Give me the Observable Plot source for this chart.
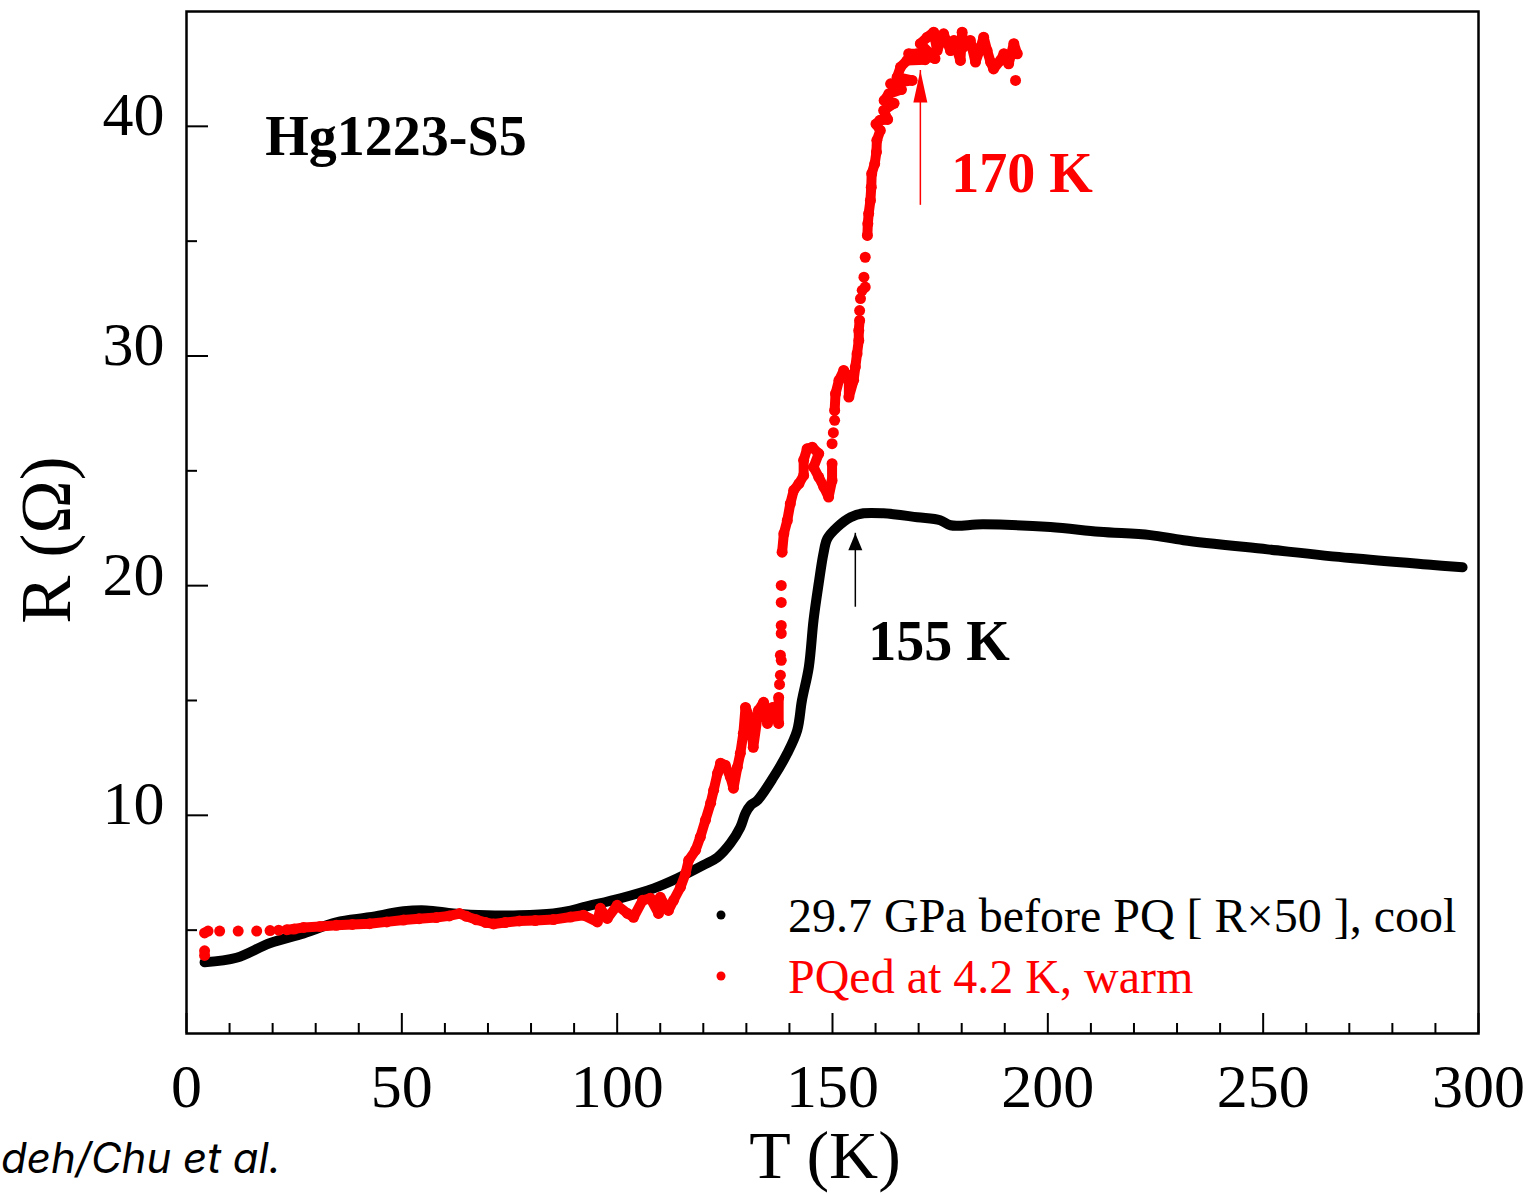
<!DOCTYPE html>
<html><head><meta charset="utf-8">
<script src="https://cdn.jsdelivr.net/npm/d3@7"></script>
<script src="https://cdn.jsdelivr.net/npm/@observablehq/plot@0.6"></script>
<style>
html,body{margin:0;padding:0;background:#fff;}
#chart{position:relative;width:1532px;height:1194px;overflow:hidden;}
</style></head><body><div id="chart"></div>
<script>
// ---- data ----
// cooling curve (29.7 GPa before PQ, R x 50)
const coolT = [4.2, 11.6, 19.3, 27.2, 34.8, 42.5, 50.4, 55.7, 62, 69.7, 77.3, 85.2, 89.2, 92.2, 100.8, 108.5, 114, 120, 123.3, 126.3, 128.6, 129.8, 131, 132.6, 136.3, 139.5, 141.8, 142.9, 144.5, 145.6, 146.8, 147.9, 148.8, 151.1, 154.2, 157.2, 161.8, 169.7, 175, 177.4, 185, 200.6, 212, 223.8, 231.5, 251, 270.3, 289.5, 296.3];
const coolR = [3.6, 3.8, 4.43, 4.86, 5.34, 5.56, 5.82, 5.86, 5.73, 5.65, 5.65, 5.73, 5.85, 6.0, 6.39, 6.82, 7.26, 7.83, 8.17, 8.78, 9.48, 10.09, 10.44, 10.66, 11.66, 12.7, 13.7, 15.0, 16.45, 18.5, 20.1, 21.4, 22.05, 22.55, 22.98, 23.15, 23.15, 22.98, 22.85, 22.63, 22.67, 22.55, 22.35, 22.2, 21.98, 21.58, 21.2, 20.9, 20.8];

// warming curve (PQed at 4.2 K); group "s" = isolated points, others = dense runs
const warmT = [
  4.2, 4.2, 4.2, 5.0, 7.7, 12.0, 16.3, 19.4, 21.4,
  23.3, 25, 27.2, 31, 34.8, 38.5, 42.5, 46.5, 50.4, 54, 58, 61, 63.4, 65, 67.3, 69.5, 71.3, 74, 77.3, 81, 85.2, 89.2, 92.2, 95.4, 96.1, 97.7, 100, 102.4, 103.8, 105.9, 107.7, 109.6, 110, 111.9, 113.1, 114.7, 115.9, 116.6, 118.2, 119.3, 120.5, 121.7, 122.4, 123.3, 124, 125.1, 126.3, 127, 127.9, 128.6, 129.3, 129.8, 131, 131.6, 132.8, 134, 134.9, 136.1, 137.5, 137.5,
  137.7, 137.9, 137.9, 138.1, 138.1, 138.1, 138.1, 138.1,
  138.3, 138.7, 139.5, 140.2, 141, 142.2, 143.3, 143.3, 144.1, 145.3, 146.8, 145.6, 146.8, 148, 149.1, 149.9, 149.9,
  149.9, 150.2, 150.5,
  150.5, 150.7, 151.5, 152.6, 153.8, 153.8, 154.9, 155.3, 155.7, 156.1, 156.1, 156.3,
  156.3, 156.5, 156.9, 157.6, 157.3, 157.6,
  158.1, 158.2, 158.4, 158.8, 159.0, 159.1, 159.8, 160.2, 160.3, 161.1, 160.1, 161.0, 162.8, 161.9, 164.3, 162.0, 163.1, 166.0, 163.5, 168.5, 165.0, 165.8, 167.3, 171.5, 167.7, 169.7, 173.8, 170.4, 172.0, 173.5, 174.3, 175.8, 177.4, 178.2, 179.7, 180.1, 180.4, 182.0, 183.2, 184.4, 185.1, 185.9, 186.7, 187.4, 189.0, 189.8, 190.9, 192.1, 192.9,
  192.5
];
const warmR = [
  4.1, 3.9, 4.88, 4.96, 4.96, 4.96, 4.96, 4.98, 5.0,
  5.02, 5.05, 5.12, 5.16, 5.21, 5.25, 5.28, 5.36, 5.44, 5.5, 5.55, 5.62, 5.72, 5.6, 5.45, 5.33, 5.27, 5.33, 5.4, 5.42, 5.46, 5.57, 5.65, 5.36, 5.95, 5.51, 6.08, 5.73, 5.56, 6.3, 6.39, 5.73, 6.43, 5.86, 6.3, 6.87, 7.48, 8.04, 8.48, 9.05, 9.79, 10.53, 11.09, 11.83, 12.27, 12.18, 11.66, 11.18, 12.09, 12.7, 13.57, 14.7, 14.14, 12.96, 14.57, 14.92, 14.0, 14.7, 14.0, 15.13,
  15.7, 16.1, 16.97, 17.92, 18.27, 19.27, 20.01, 16.75,
  21.46, 22.26, 22.84, 23.57, 24.15, 24.44, 24.8, 25.46, 25.96, 26.03, 25.75, 25.16, 24.73, 24.29, 23.86, 24.58, 25.31,
  26.18, 26.66, 27.2,
  27.63, 28.36, 28.94, 29.37, 29.08, 28.21, 28.94, 29.52, 30.1, 30.68, 31.11, 31.55,
  31.98, 32.5, 32.86, 33.0, 33.43, 34.3,
  35.25, 35.76, 36.2, 36.77, 37.35, 37.94, 38.37, 38.88, 39.39, 39.82, 40.1, 40.26, 40.3, 40.69, 41.0, 41.13, 41.42, 41.6, 41.85, 42.0, 42.14, 42.58, 42.87, 42.9, 43.16, 43.16, 42.95, 43.6, 43.88, 44.1, 43.3, 44.03, 43.3, 43.74, 42.87, 44.1, 43.45, 43.74, 42.8, 43.45, 43.88, 43.3, 42.8, 42.5, 42.87, 43.16, 42.72, 43.6, 43.16,
  42.0
];
const warmGroup = [
  ...Array(9).fill("s"),
  ...Array(60).fill("b1"),
  ...Array(8).fill("s"),
  ...Array(17).fill("b2"),
  ...Array(3).fill("s"),
  ...Array(12).fill("b3"),
  ...Array(6).fill("s"),
  ...Array(49).fill("b4"),
  "s"
];

const xMajorTicks = [0, 50, 100, 150, 200, 250, 300];
const xMinorTicks = [10, 20, 30, 40, 60, 70, 80, 90, 110, 120, 130, 140, 160, 170, 180, 190, 210, 220, 230, 240, 260, 270, 280, 290];
const yMajorTicks = [10, 20, 30, 40];
const yMinorTicks = [5, 15, 25, 35];

const seriesLabels = ["29.7 GPa before PQ [ R×50 ], cool", "PQed at 4.2 K, warm"];
const seriesColors = ["#000000", "#ff0000"];

const noteText = ["Hg1223-S5", "170 K", "155 K"];
const noteT = [18.3, 177.6, 158.3];
const noteR = [38.73, 37.12, 16.75];
const noteColor = ["#000000", "#ff0000", "#000000"];

const arrowT = [170.4, 155.3];
const arrowFromR = [36.56, 19.06];
const arrowToR = [42.43, 22.28];
const arrowColor = ["#ff0000", "#000000"];

const xLabel = "T (K)";
const yLabel = "R (Ω)";
const caption = "deh/Chu et al.";

// ---- build tables ----
const cool = coolT.map((t, i) => ({T: t, R: coolR[i]}));
const warm = warmT.map((t, i) => ({T: t, R: warmR[i], group: warmGroup[i]}));
const warmBand = warm.filter(d => d.group !== "s");
const notes = noteText.map((s, i) => ({text: s, T: noteT[i], R: noteR[i], color: noteColor[i]}));
const arrows = arrowT.map((t, i) => ({T: t, from: arrowFromR[i], to: arrowToR[i], color: arrowColor[i]}));

function head(len, hw) {
  return {draw(ctx) { ctx.moveTo(0, 0); ctx.lineTo(hw, len); ctx.lineTo(-hw, len); ctx.closePath(); }};
}

const W = 1532, H = 1194, mL = 186, mR = 54, mT = 11, mB = 161;
const innerW = W - mL - mR, innerH = H - mT - mB;
const serif = "'Liberation Serif','Times New Roman',serif";

const chart = Plot.plot({
  width: W, height: H,
  marginLeft: mL, marginRight: mR, marginTop: mT, marginBottom: mB,
  style: {fontFamily: serif, color: "#000", background: "#fff", overflow: "visible"},
  x: {domain: [0, 300]},
  y: {domain: [0.5, 45]},
  marks: [
    Plot.ruleX(xMajorTicks, {x: d => d, insetTop: innerH - 20, stroke: "#000", strokeWidth: 2}),
    Plot.ruleX(xMinorTicks, {x: d => d, insetTop: innerH - 10, stroke: "#000", strokeWidth: 2}),
    Plot.ruleY(yMajorTicks, {y: d => d, insetRight: innerW - 22, stroke: "#000", strokeWidth: 2}),
    Plot.ruleY(yMinorTicks, {y: d => d, insetRight: innerW - 11, stroke: "#000", strokeWidth: 2}),
    Plot.frame({stroke: "#000", strokeWidth: 2.5}),
    Plot.axisX({ticks: xMajorTicks, tickSize: 0, tickPadding: 29, fontSize: 62, label: null, tickFormat: d => String(d)}),
    Plot.axisY({ticks: yMajorTicks, tickSize: 0, tickPadding: 22, fontSize: 62, dy: -11, label: null, tickFormat: d => String(d)}),
    Plot.line(cool, {x: "T", y: "R", stroke: seriesColors[0], strokeWidth: 10, strokeLinecap: "round", strokeLinejoin: "round", curve: "catmull-rom"}),
    Plot.line(warmBand, {x: "T", y: "R", z: "group", stroke: seriesColors[1], strokeWidth: 10, strokeLinecap: "round", strokeLinejoin: "round"}),
    Plot.dot(warm, {x: "T", y: "R", r: 5.5, fill: seriesColors[1], stroke: "none"}),
    Plot.ruleX(arrows, {x: "T", y1: "from", y2: "to", stroke: "color", strokeWidth: 1.5}),
    Plot.dot(arrows.slice(0, 1), {x: "T", y: "to", symbol: head(32, 7), fill: "color", stroke: "none"}),
    Plot.dot(arrows.slice(1), {x: "T", y: "to", symbol: head(17, 7), fill: "color", stroke: "none"}),
    Plot.text(notes, {x: "T", y: "R", text: "text", fill: "color", fontSize: 56, fontWeight: "bold", textAnchor: "start", lineAnchor: "bottom", fontFamily: serif})
  ]
});

document.getElementById("chart").appendChild(chart);

// ---- axis titles, legend, caption ----
const svg = d3.select(chart);
svg.append("text").attr("x", 825).attr("y", 1178).attr("text-anchor", "middle")
  .attr("font-family", serif).attr("font-size", 68).attr("fill", "#000").text(xLabel);
svg.append("text").attr("transform", "translate(70,540) rotate(-90)").attr("text-anchor", "middle")
  .attr("font-family", serif).attr("font-size", 72).attr("fill", "#000").text(yLabel);

const legendY = [915, 976];
seriesLabels.forEach((s, i) => {
  svg.append("circle").attr("cx", 721).attr("cy", legendY[i]).attr("r", 4.5).attr("fill", seriesColors[i]);
  svg.append("text").attr("x", 788).attr("y", legendY[i] + 17).attr("text-anchor", "start").attr("font-family", serif)
    .attr("font-size", 48).attr("fill", seriesColors[i]).text(s);
});

svg.append("text").attr("x", 1).attr("y", 1173).attr("text-anchor", "start").attr("font-family", "Inter, 'Open Sans', sans-serif")
  .attr("font-style", "italic").attr("font-size", 42).attr("fill", "#000").text(caption);
</script>
</body></html>
